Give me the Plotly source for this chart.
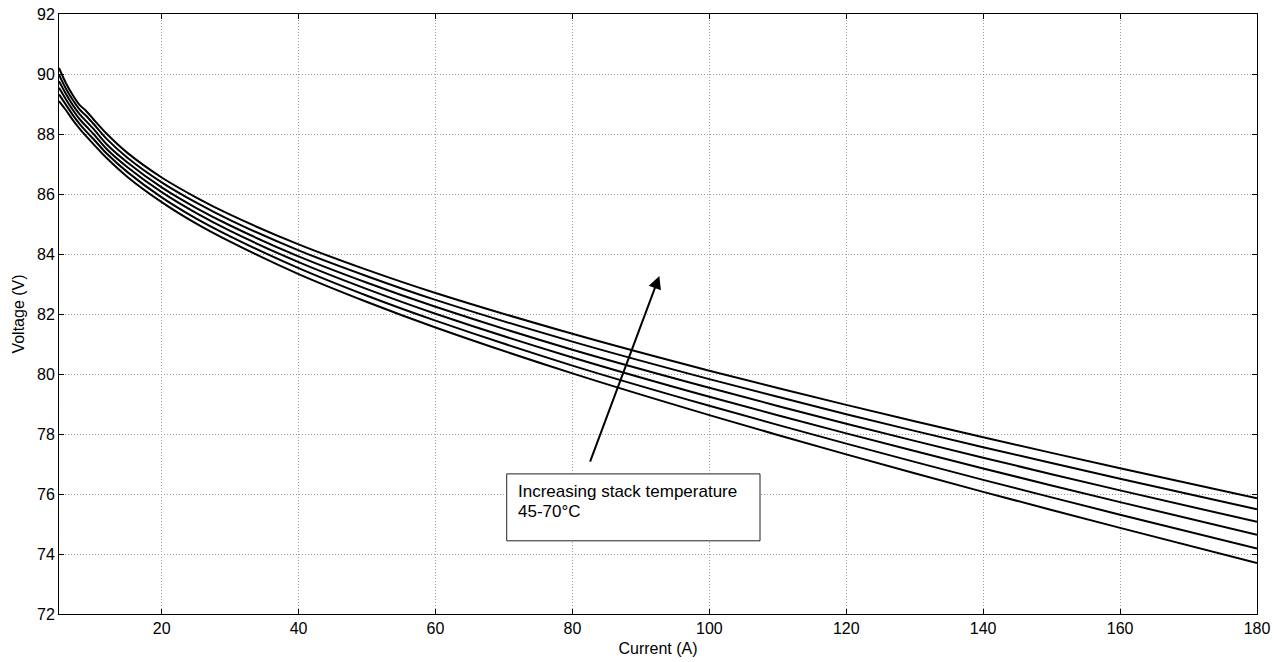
import plotly.graph_objects as go

current = [5, 6, 7, 8, 9, 10, 12, 15, 20, 25, 30, 40, 50, 60, 80, 100, 120, 140, 160, 180]

v_45 = [89.10, 88.80, 88.47, 88.18, 87.92, 87.67, 87.19, 86.57, 85.73, 85.02, 84.41, 83.33, 82.40, 81.55, 80.02, 78.63, 77.32, 76.07, 74.87, 73.70]
v_50 = [89.32, 88.98, 88.64, 88.34, 88.08, 87.84, 87.34, 86.73, 85.89, 85.19, 84.59, 83.53, 82.61, 81.78, 80.28, 78.94, 77.68, 76.47, 75.31, 74.18]
v_55 = [89.54, 89.16, 88.81, 88.50, 88.25, 88.01, 87.49, 86.89, 86.06, 85.37, 84.77, 83.73, 82.83, 82.01, 80.55, 79.24, 78.02, 76.85, 75.73, 74.64]
v_60 = [89.76, 89.34, 88.97, 88.66, 88.42, 88.18, 87.65, 87.05, 86.22, 85.54, 84.95, 83.92, 83.04, 82.24, 80.81, 79.54, 78.34, 77.21, 76.12, 75.07]
v_65 = [89.98, 89.52, 89.14, 88.82, 88.60, 88.35, 87.83, 87.21, 86.39, 85.72, 85.13, 84.12, 83.26, 82.47, 81.08, 79.83, 78.66, 77.56, 76.51, 75.49]
v_70 = [90.20, 89.70, 89.30, 88.97, 88.76, 88.50, 88.00, 87.37, 86.55, 85.89, 85.31, 84.32, 83.47, 82.70, 81.34, 80.11, 78.97, 77.89, 76.86, 75.86]

series = [v_45, v_50, v_55, v_60, v_65, v_70]

x_ticks = [20, 40, 60, 80, 100, 120, 140, 160, 180]
y_ticks = [72, 74, 76, 78, 80, 82, 84, 86, 88, 90, 92]

box_lines = ["Increasing stack temperature", "45-70°C"]

FONT = "Arial, Liberation Sans, sans-serif"

fig = go.Figure()
for v in series:
    fig.add_trace(go.Scatter(x=current, y=v, mode="lines",
                             line=dict(color="black", width=2, shape="spline", smoothing=0.8),
                             showlegend=False, hoverinfo="skip"))

# Text box
fig.add_shape(type="rect", xref="x", yref="y", x0=70.4, x1=107.4, y0=74.44, y1=76.67,
              line=dict(color="#222222", width=1), fillcolor="white", layer="above")
fig.add_annotation(x=71.7, y=76.07, xref="x", yref="y", xanchor="left", yanchor="middle",
                   text=box_lines[0], showarrow=False,
                   font=dict(family=FONT, size=17, color="black"))
fig.add_annotation(x=71.7, y=75.43, xref="x", yref="y", xanchor="left", yanchor="middle",
                   text=box_lines[1], showarrow=False,
                   font=dict(family=FONT, size=17, color="black"))
# Arrow
fig.add_annotation(x=92.7, y=83.27, ax=82.5, ay=77.03, xref="x", yref="y", axref="x", ayref="y",
                   text="", showarrow=True, arrowhead=2, arrowsize=1.3, arrowwidth=2,
                   arrowcolor="black")

axis_common = dict(showline=True, linecolor="black", linewidth=1, mirror="allticks",
                   ticks="inside", ticklen=5, tickcolor="black",
                   showgrid=True, gridcolor="#a0a0a0", gridwidth=1, griddash="1px,2px",
                   zeroline=False, tickfont=dict(family=FONT, size=16, color="black"))

fig.update_xaxes(range=[5, 180], tickvals=x_ticks, ticktext=[str(t) for t in x_ticks],
                 title=dict(text="Current (A)", font=dict(family=FONT, size=16, color="black"), standoff=6),
                 **axis_common)
fig.update_yaxes(range=[72, 92], tickvals=y_ticks, ticktext=[str(t) for t in y_ticks],
                 title=dict(text="Voltage (V)", font=dict(family=FONT, size=16, color="black"), standoff=8),
                 **axis_common)

fig.update_layout(width=1281, height=662, margin=dict(l=59, r=24, t=14, b=48, autoexpand=False),
                  plot_bgcolor="white", paper_bgcolor="white",
                  font=dict(family=FONT, size=16, color="black"))

fig.write_html("out.html", config={"displayModeBar": False},
               post_script="document.body.style.margin='0';document.body.style.overflow='hidden';")
